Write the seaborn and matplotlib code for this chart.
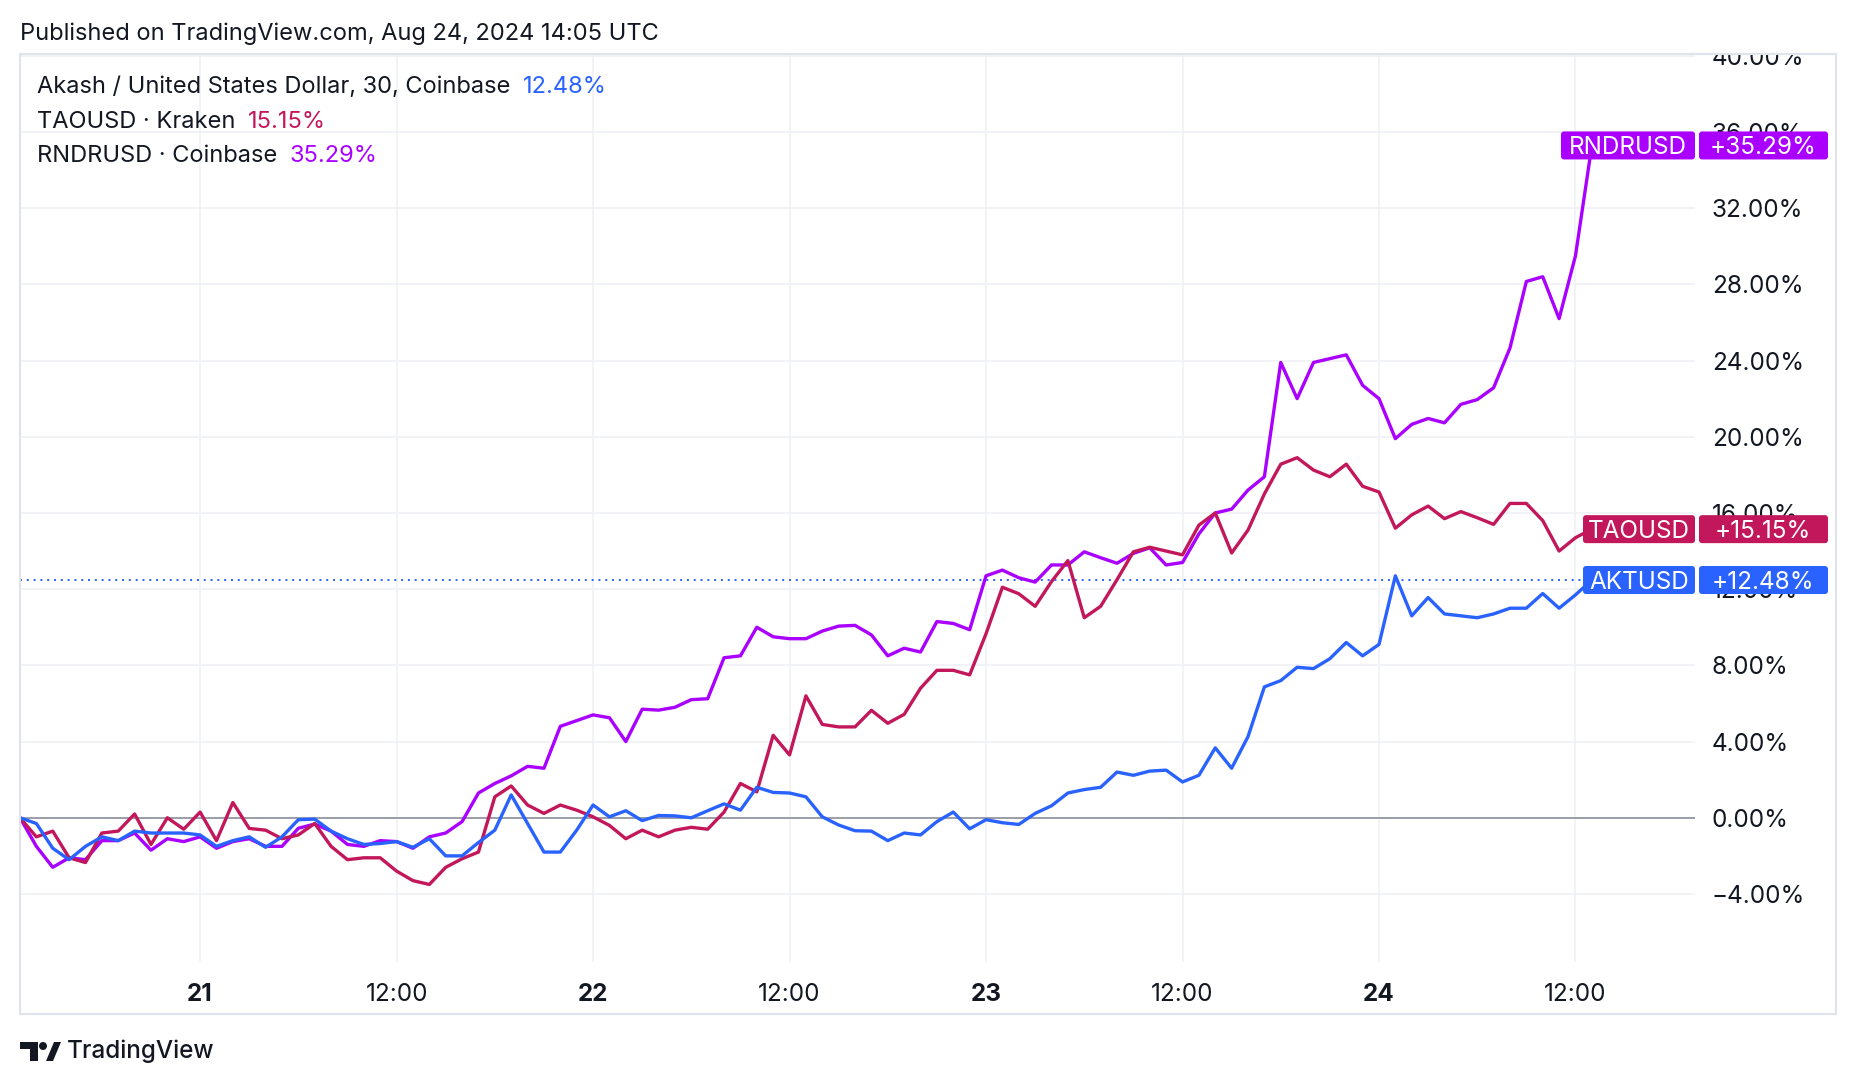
import numpy as np
import pandas as pd
import matplotlib
matplotlib.use("Agg")
import matplotlib.pyplot as plt
from matplotlib.patches import Rectangle, FancyBboxPatch, Circle, Polygon
from matplotlib.transforms import IdentityTransform
import seaborn as sns

# hourly % change since Aug 20 13:00
akt = [0, -0.3, -1.6, -2.2, -1.5, -1.0, -1.2, -0.7, -0.8, -0.8, -0.8, -0.9, -1.5,
       -1.2, -1.0, -1.55, -1.0, -0.1, -0.07, -0.7, -1.1, -1.4, -1.35, -1.25, -1.55,
       -1.1, -2.0, -2.0, -1.3, -0.65, 1.2, -0.3, -1.8, -1.8, -0.65, 0.67, 0.05,
       0.37, -0.15, 0.12, 0.1, 0.0, 0.37, 0.73, 0.4, 1.6, 1.33, 1.3, 1.1,
       0.05, -0.38, -0.68, -0.7, -1.2, -0.8, -0.9, -0.2, 0.3, -0.58, -0.1, -0.26,
       -0.35, 0.23, 0.63, 1.3, 1.48, 1.6, 2.4, 2.23, 2.45, 2.5, 1.88, 2.23,
       3.67, 2.6, 4.26, 6.87, 7.2, 7.9, 7.83, 8.35, 9.2, 8.5, 9.1, 12.7,
       10.6, 11.56, 10.7, 10.6, 10.5, 10.7, 11.0, 11.0, 11.77, 11.0, 11.7, 12.48]
tao = [0, -1.0, -0.7, -2.1, -2.35, -0.8, -0.7, 0.2, -1.4, 0.0, -0.6, 0.3, -1.2,
       0.8, -0.56, -0.65, -1.1, -0.9, -0.3, -1.5, -2.2, -2.1, -2.1, -2.8, -3.3,
       -3.5, -2.6, -2.15, -1.8, 1.1, 1.67, 0.67, 0.23, 0.67, 0.4, 0.05, -0.4,
       -1.1, -0.65, -1.0, -0.65, -0.5, -0.6, 0.3, 1.8, 1.36, 4.33, 3.3, 6.4,
       4.9, 4.77, 4.77, 5.64, 4.96, 5.43, 6.8, 7.74, 7.74, 7.5, 9.66, 12.1,
       11.76, 11.1, 12.4, 13.5, 10.5, 11.1, 12.5, 13.96, 14.2, 14.0, 13.8, 15.36,
       16.0, 13.9, 15.1, 17.0, 18.56, 18.9, 18.25, 17.9, 18.56, 17.4, 17.1, 15.2,
       15.9, 16.36, 15.7, 16.07, 15.75, 15.4, 16.5, 16.5, 15.6, 14.0, 14.7, 15.15]
rndr = [0, -1.5, -2.6, -2.1, -2.2, -1.2, -1.2, -0.8, -1.7, -1.1, -1.25, -1.0, -1.6,
        -1.25, -1.1, -1.5, -1.5, -0.55, -0.33, -0.7, -1.4, -1.5, -1.2, -1.25, -1.6,
        -1.0, -0.8, -0.2, 1.3, 1.8, 2.2, 2.7, 2.6, 4.8, 5.1, 5.4, 5.25,
        4.0, 5.7, 5.65, 5.8, 6.2, 6.25, 8.4, 8.5, 10.0, 9.5, 9.4, 9.4,
        9.8, 10.06, 10.1, 9.6, 8.5, 8.9, 8.7, 10.3, 10.2, 9.87, 12.7, 13.0,
        12.6, 12.37, 13.27, 13.27, 13.96, 13.65, 13.36, 13.88, 14.17, 13.27, 13.4, 14.9,
        16.0, 16.2, 17.2, 17.9, 23.9, 22.0, 23.9, 24.1, 24.3, 22.7, 22.0, 19.9,
        20.65, 20.96, 20.73, 21.7, 21.95, 22.57, 24.66, 28.15, 28.4, 26.2, 29.5, 35.29]

symbols = ["AKTUSD", "TAOUSD", "RNDRUSD"]
legend_names = ["Akash / United States Dollar, 30, Coinbase", "TAOUSD · Kraken", "RNDRUSD · Coinbase"]
last_vals = [12.48, 15.15, 35.29]
colors = ["#2962ff", "#c2185b", "#aa00ff"]
ytick_vals = np.arange(-4, 41, 4)
xtick_labels = ["21", "12:00", "22", "12:00", "23", "12:00", "24", "12:00"]

times = pd.date_range("2024-08-20 13:00", periods=len(akt), freq="h")
df = pd.DataFrame({
    "time": np.tile(times.values, 3),
    "pct": akt + tao + rndr,
    "symbol": np.repeat(symbols, len(akt)),
})

sns.set_theme(style="white")
plt.rcParams["font.family"] = ["Inter", "DejaVu Sans"]
txt = "#131722"

W, H = 1856, 1086
fig = plt.figure(figsize=(W / 100, H / 100), dpi=100)
ax = fig.add_axes([20 / W, 1 - 962 / H, (1695 - 20) / W, (962 - 54) / H])

sns.lineplot(data=df, x="time", y="pct", hue="symbol",
             hue_order=["RNDRUSD", "TAOUSD", "AKTUSD"],
             palette=dict(zip(symbols, colors)), linewidth=2.4,
             legend=False, ax=ax, zorder=3)

ax.set_ylim(-7.57, 40.09)
ax.set_xlim(times[0], times[0] + pd.Timedelta(hours=102.3))
ax.set_xlabel("")
ax.set_ylabel("")
for s in ax.spines.values():
    s.set_visible(False)

ax.yaxis.tick_right()
ax.set_yticks(ytick_vals)
ax.set_yticklabels([f"{v:.2f}%".replace("-", "\u2212") for v in ytick_vals])
ax.tick_params(axis="y", length=0, pad=12, labelsize=17.5, labelcolor=txt)

xticks = pd.date_range("2024-08-21", periods=8, freq="12h")
ax.set_xticks(xticks)
ax.set_xticklabels(xtick_labels)
for lab in ax.get_xticklabels():
    if ":" not in lab.get_text():
        lab.set_fontweight("bold")
ax.tick_params(axis="x", length=0, pad=15, labelsize=17.5, labelcolor=txt)

ax.grid(True, color="#f0f1f5", lw=1.2)
ax.set_axisbelow(True)
ax.axhline(0, color="#9b9ea8", lw=1.4, zorder=2)
ax.axhline(last_vals[0], color=colors[0], lw=1.4, ls=(0, (1, 2.5)), zorder=2)

# price labels at the right edge
fig.canvas.draw()
name_left = {"AKTUSD": 1583, "TAOUSD": 1583, "RNDRUSD": 1561}
for sym, val, c in zip(symbols, last_vals, colors):
    yd = ax.transData.transform((0, val))[1]
    x0 = name_left[sym]
    fig.add_artist(FancyBboxPatch((x0, yd - 14), 1695 - x0, 28,
                                  boxstyle="round,pad=0,rounding_size=3",
                                  fc=c, ec="none", transform=IdentityTransform(), zorder=6))
    fig.add_artist(FancyBboxPatch((1699, yd - 14), 129, 28,
                                  boxstyle="round,pad=0,rounding_size=3",
                                  fc=c, ec="none", transform=IdentityTransform(), zorder=6))
    fig.text((x0 + 1695) / 2, yd, sym, transform=IdentityTransform(), color="white",
             fontsize=17.5, ha="center", va="center_baseline", zorder=7)
    fig.text(1763, yd, f"+{val:.2f}%", transform=IdentityTransform(), color="white",
             fontsize=17.5, ha="center", va="center_baseline", zorder=7)

# mask above frame (cuts the top tick label) and frame border
fig.add_artist(Rectangle((1696, H - 54), 160, 54, fc="white", ec="none",
                         transform=IdentityTransform(), zorder=8))
fig.add_artist(Rectangle((20, H - 1014), 1816, 960, fc="none", ec="#e0e3eb", lw=1.5,
                         transform=IdentityTransform(), zorder=9))

fig.text(20 / W, 1 - 34 / H, "Published on TradingView.com, Aug 24, 2024 14:05 UTC",
         fontsize=17, color=txt, va="center", ha="left")

ys = [87, 122, 156]
for name, val, c, y in zip(legend_names, last_vals, colors, ys):
    t = fig.text(37 / W, 1 - y / H, name, fontsize=17, color=txt, va="center", ha="left")
    fig.add_artist(plt.Annotation(f"{val:.2f}%", xy=(1, 0.5), xycoords=t, xytext=(9, 0),
                                  textcoords="offset points", fontsize=17, color=c,
                                  va="center", ha="left"))

# TradingView logo
def px(x, y):
    return (x / W, 1 - y / H)

fig.add_artist(Polygon([px(20, 1042), px(38, 1042), px(38, 1061), px(30, 1061),
                        px(30, 1049), px(20, 1049)], closed=True, fc=txt, ec="none",
                       transform=fig.transFigure))
fig.add_artist(Circle((43, H - 1046), 4, fc=txt, ec="none", transform=IdentityTransform()))
fig.add_artist(Polygon([px(46, 1061), px(53, 1061), px(61, 1042), px(54, 1042)],
                       closed=True, fc=txt, ec="none", transform=fig.transFigure))
fig.text(67 / W, 1 - 1051 / H, "TradingView", fontsize=17.5, color=txt, va="center",
         ha="left", fontweight="medium")

fig.savefig("out.png", dpi=100, facecolor="white")
